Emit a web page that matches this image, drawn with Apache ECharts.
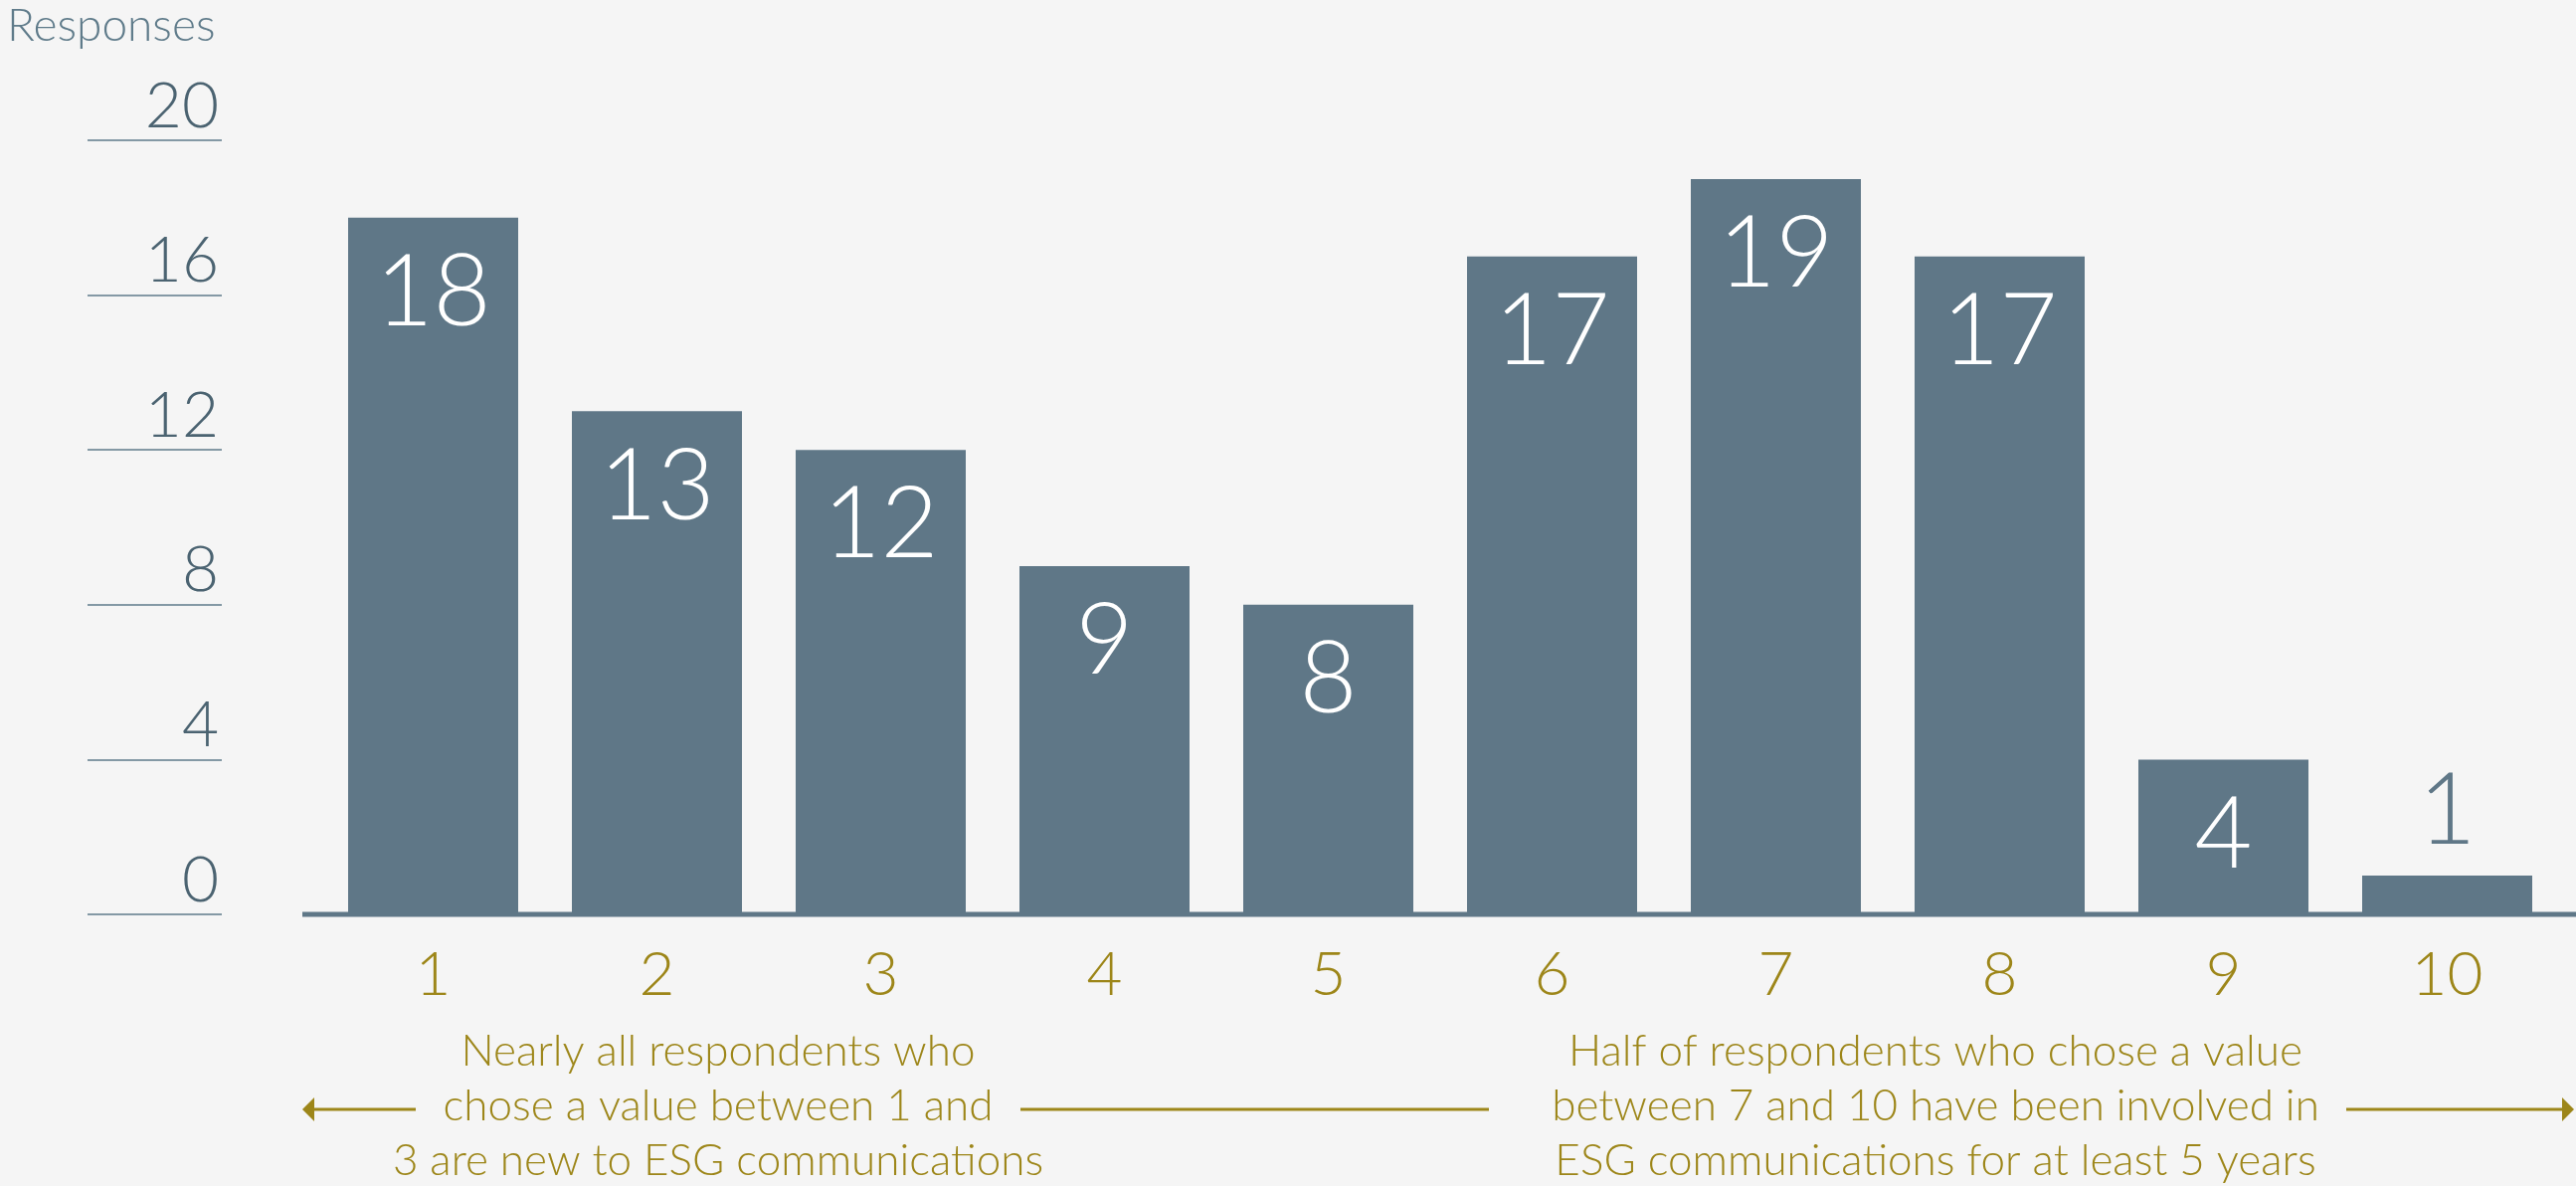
<!DOCTYPE html>
<html>
<head>
<meta charset="utf-8">
<script src="https://cdn.jsdelivr.net/npm/echarts@6/dist/echarts.min.js"></script>
<style>
  html, body { margin: 0; padding: 0; background: #f5f5f5; }
  #chart { width: 2590px; height: 1192px; }
</style>
</head>
<body>
<div id="chart"></div>
<script>
// Scale positions 1..10 and how many responses chose each
const categories = ['1', '2', '3', '4', '5', '6', '7', '8', '9', '10'];
const responses = [18, 13, 12, 9, 8, 17, 19, 17, 4, 1];
const yTicks = [0, 4, 8, 12, 16, 20];

const leftNote = 'Nearly all respondents who\nchose a value between 1 and\n3 are new to ESG communications';
const rightNote = 'Half of respondents who chose a value\nbetween 7 and 10 have been involved in\nESG communications for at least 5 years';

const BAR = '#5f7787';
const GOLD = '#9d8619';
const SLATE = '#4b6371';
const FONT = 'Lato, "Open Sans", sans-serif';

const chart = echarts.init(document.getElementById('chart'));

const barData = responses.map(function (v) {
  const item = { value: v };
  if (v < 3) {
    item.label = { position: 'top', color: BAR, distance: 14 };
  }
  return item;
});

chart.setOption({
  backgroundColor: '#f5f5f5',
  animation: false,
  title: {
    text: 'Responses',
    left: 2,
    top: -2,
    textStyle: { fontFamily: FONT, fontWeight: 300, fontSize: 46, color: '#5f7b8a' }
  },
  grid: { left: 323, right: 17, top: 141, bottom: 273 },
  xAxis: {
    type: 'category',
    data: categories,
    axisLine: { show: false },
    axisTick: { show: false },
    axisLabel: { color: GOLD, fontFamily: FONT, fontWeight: 300, fontSize: 62, margin: 30 }
  },
  yAxis: {
    type: 'value',
    min: yTicks[0],
    max: yTicks[yTicks.length - 1],
    interval: 4,
    offset: 100,
    splitLine: { show: false },
    axisLine: { show: false },
    axisTick: { show: true, inside: false, length: 135, lineStyle: { color: '#5f7b8a', width: 1.5 } },
    axisLabel: {
      color: SLATE, fontFamily: FONT, fontWeight: 300, fontSize: 64, margin: 3,
      verticalAlign: 'bottom', lineHeight: 64, padding: [0, 0, 2, 0]
    }
  },
  series: [{
    type: 'bar',
    data: barData,
    barCategoryGap: '24%',
    itemStyle: { color: BAR },
    label: {
      show: true, position: 'insideTop', distance: 26,
      color: '#ffffff', fontFamily: FONT, fontWeight: 300, fontSize: 100, lineHeight: 100
    },
    z: 3
  }]
});

// Baseline under the bars, spanning past both ends of the plot
const y0 = chart.convertToPixel({ yAxisIndex: 0 }, 0);
const W = 2590;
const arrowY = 1115;

function hLine(x1, x2) {
  return { type: 'line', shape: { x1: x1, y1: arrowY, x2: x2, y2: arrowY }, style: { stroke: GOLD, lineWidth: 3 } };
}

const noteFont = '300 44px ' + FONT;

chart.setOption({
  graphic: [
    { type: 'rect', shape: { x: 304, y: y0 - 2.5, width: W - 304, height: 5 }, style: { fill: BAR }, z: 1 },
    // left arrow
    hLine(312, 418),
    { type: 'polygon', shape: { points: [[304, arrowY], [316, arrowY - 12], [316, arrowY + 12]] }, style: { fill: GOLD } },
    hLine(1026, 1497),
    // right arrow
    hLine(2359, 2578),
    { type: 'polygon', shape: { points: [[2588, arrowY], [2576, arrowY - 12], [2576, arrowY + 12]] }, style: { fill: GOLD } },
    {
      type: 'text', x: 722, y: 1029,
      style: { text: leftNote, fill: GOLD, font: noteFont, textAlign: 'center', textVerticalAlign: 'top', lineHeight: 55 }
    },
    {
      type: 'text', x: 1946, y: 1029,
      style: { text: rightNote, fill: GOLD, font: noteFont, textAlign: 'center', textVerticalAlign: 'top', lineHeight: 55 }
    }
  ]
});
</script>
</body>
</html>
